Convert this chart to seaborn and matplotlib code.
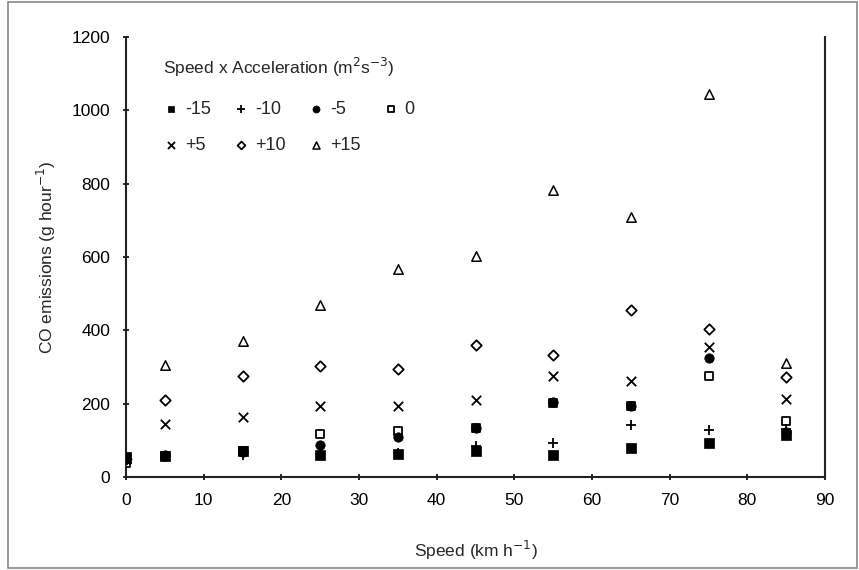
import matplotlib
matplotlib.use("Agg")
import matplotlib.pyplot as plt
import seaborn as sns
import pandas as pd
from matplotlib.patches import Rectangle

sns.set_style("ticks")
plt.rcParams['font.family'] = ['Liberation Sans', 'DejaVu Sans']

speed = [0, 5, 15, 25, 35, 45, 55, 65, 75, 85]
labels = ["-15", "-10", "-5", "0", "+5", "+10", "+15"]
co_m15 = [55, 57, 72, 60, 63, 72, 60, 79, 93, 115]
co_m10 = [50, 55, 60, 62, 65, 85, 93, 142, 128, 130]
co_m5 = [52, 60, 68, 87, 108, 133, 205, 194, 325, 122]
co_0 = [38, 58, 70, 118, 125, 133, 203, 195, 275, 152]
co_p5 = [48, 145, 164, 194, 194, 210, 275, 262, 355, 213]
co_p10 = [50, 210, 275, 303, 295, 360, 333, 456, 404, 273]
co_p15 = [52, 305, 371, 469, 567, 603, 783, 709, 1044, 311]
series = [co_m15, co_m10, co_m5, co_0, co_p5, co_p10, co_p15]

styles = [
    dict(marker="s", s=44, facecolor="black", edgecolor="black", linewidth=0.5, zorder=5),
    dict(marker="+", s=60, color="black", linewidth=1.3, zorder=5),
    dict(marker="o", s=46, facecolor="black", edgecolor="black", linewidth=0.5, zorder=5),
    dict(marker="s", s=36, facecolor="white", edgecolor="black", linewidth=1.3, zorder=3),
    dict(marker="x", s=46, color="black", linewidth=1.3, zorder=4),
    dict(marker="D", s=28, facecolor="white", edgecolor="black", linewidth=1.3, zorder=3),
    dict(marker="^", s=46, facecolor="white", edgecolor="black", linewidth=1.1, zorder=3),
]

fig = plt.figure(figsize=(8.59, 5.70), dpi=100)
ax = fig.add_axes([126/859, 1-477/570, (825-126)/859, (477-37)/570])

for lab, vals, st in zip(labels, series, styles):
    df = pd.DataFrame({"Speed": speed, "CO": vals})
    sns.scatterplot(data=df, x="Speed", y="CO", ax=ax, label=lab, **st)

ax.set_xlim(0, 90)
ax.set_ylim(0, 1200)
ax.set_xticks(range(0, 91, 10))
ax.set_yticks(range(0, 1201, 200))
ax.tick_params(axis="both", labelsize=12.5, colors="black", length=5, width=1.2, direction="inout", pad=9)
for side in ["left", "bottom", "right"]:
    ax.spines[side].set_linewidth(1.5)
    ax.spines[side].set_color("#222222")
ax.spines["top"].set_visible(False)
ax.set_xlabel("Speed (km h$^{-1}$)", fontsize=12.5, labelpad=22)
ax.set_ylabel("CO emissions (g hour$^{-1}$)", fontsize=12.5, labelpad=10)

h, l = ax.get_legend_handles_labels()
order = [0, 4, 1, 5, 2, 6, 3]
leg = ax.legend([h[i] for i in order], [l[i] for i in order], ncol=4, frameon=False,
                loc="upper left", bbox_to_anchor=(0.03, 0.995),
                title="Speed x Acceleration (m$^2$s$^{-3}$)", title_fontsize=12.5,
                fontsize=13, handletextpad=0.3, columnspacing=1.25, labelspacing=1.05,
                handlelength=0.9, markerscale=0.75)
leg._legend_box.align = "left"
leg._legend_box.sep = 16

fig.patches.append(Rectangle((8/859, 2/570), 849/859, 566/570, transform=fig.transFigure,
                             fill=False, edgecolor="#888888", linewidth=1.2))

fig.savefig("out.png", dpi=100)
